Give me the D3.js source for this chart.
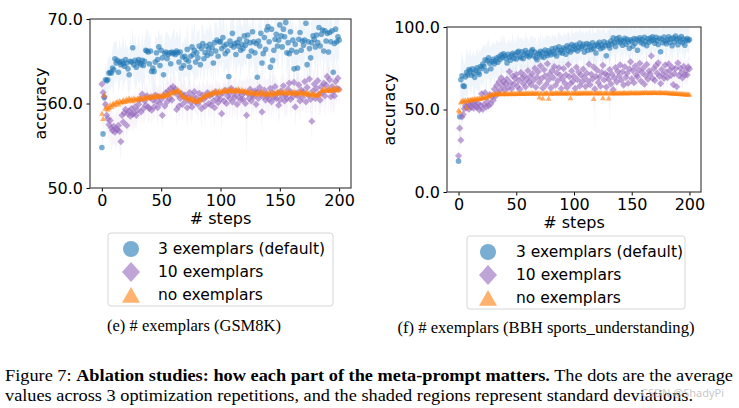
<!DOCTYPE html>
<html><head><meta charset="utf-8">
<script src="https://cdn.jsdelivr.net/npm/d3@7"></script>
<style>body{margin:0;background:#fff}svg{display:block}</style>
</head><body>
<svg id="c" width="739" height="408"></svg>
<script>
// ---------- data: GSM8K ----------
const gsmBlue=[54.8,56.4,60.7,62.8,62.7,62.8,63.6,63.7,63.6,64.2,
64.0,65.3,64.8,65.1,63.7,64.9,64.6,65.0,64.7,64.4,
65.2,64.8,64.1,63.4,65.0,64.9,66.6,64.6,65.1,64.3,
64.9,65.2,64.8,64.6,65.1,64.5,65.0,66.3,66.2,66.1,
64.7,66.2,63.8,64.2,63.8,64.9,66.0,65.2,66.7,64.5,
66.3,65.4,63.4,65.9,66.1,65.3,65.8,66.0,64.7,66.1,
65.9,66.0,65.8,66.2,66.0,64.9,66.1,64.2,65.5,64.5,
65.6,65.2,66.4,65.0,64.3,65.6,66.7,65.8,66.3,64.9,
66.0,65.4,66.8,64.6,66.5,67.1,65.3,66.0,66.8,65.7,
66.4,67.0,65.9,66.6,64.8,67.2,66.2,67.5,65.6,67.3,
67.3,66.5,67.8,66.8,65.9,67.0,66.2,63.2,67.4,66.9,
68.3,66.7,67.1,65.8,67.2,66.8,67.6,66.3,67.0,66.5,
68.0,66.9,67.4,68.1,65.6,67.2,66.2,68.5,67.3,66.0,
67.1,63.1,67.4,66.8,68.3,64.8,65.9,67.8,66.4,68.7,
69.1,67.3,64.3,68.8,65.1,66.3,67.6,68.2,66.8,67.5,
69.3,68.0,66.7,68.8,67.9,69.6,66.0,67.2,65.9,68.5,
66.3,67.5,64.1,67.0,66.1,64.2,67.6,68.4,66.3,67.4,
66.9,67.5,69.5,64.6,67.3,66.5,65.4,67.2,68.0,67.6,
66.7,68.1,67.2,69.0,66.8,68.2,68.7,66.2,68.6,67.4,
68.3,66.1,68.4,67.3,68.6,63.7,67.1,68.8,67.3,67.9,
67.5];
const gsmBlueStd=[0.5,1.0,1.5,2.0,1.2,2.6,1.8,2.2,1.5,2.4,
3.1,2.0,2.7,1.6,2.4,2.9,1.8,2.2,3.3,1.9,
2.5,1.7,2.8,2.2,3.0,1.6,2.4,2.0,3.2,2.6,
1.8,2.9,2.3,1.7,3.4,2.1,2.6,1.9,2.8,2.4,
3.0,2.2,1.9,2.7,2.4,3.1,1.8,2.5,2.2,3.3,
2.0,2.6,2.9,1.8,2.3,3.2,2.4,1.9,2.8,2.1,
2.6,3.0,1.7,2.4,2.1,2.8,3.3,2.2,1.9,2.7,
2.4,2.0,3.1,2.6,2.3,1.8,2.9,2.4,3.4,2.1,
2.6,3.0,2.2,1.9,2.8,2.3,3.2,2.0,2.5,2.9,
2.2,2.7,3.1,1.9,2.6,2.4,3.3,2.1,2.8,2.5,
3.0,2.2,2.6,3.4,2.0,2.8,2.4,3.6,2.1,2.9,
2.5,3.2,2.0,2.7,3.0,2.3,2.8,3.5,2.2,2.6,
3.1,2.4,2.9,2.1,3.3,2.6,2.2,3.0,2.7,2.4,
3.2,2.5,2.8,2.3,3.4,2.9,2.1,2.7,3.1,2.4,
2.6,3.3,2.9,2.2,3.5,2.7,2.4,3.0,2.6,3.2,
2.8,2.3,3.4,2.6,3.0,2.5,3.2,2.7,3.6,2.2,
3.0,2.6,3.8,2.4,3.1,2.9,2.5,3.3,2.8,2.4,
3.2,2.7,2.5,3.6,2.9,3.1,2.6,3.4,2.3,2.8,
3.0,2.5,3.3,2.7,3.1,2.4,3.5,2.9,2.6,3.2,
2.8,3.4,2.5,3.0,2.7,3.9,2.6,3.3,2.9,2.5,
2.6];
const gsmPurple=[62.3,61.3,60.8,59.9,58.6,58.2,57.5,58.0,57.1,56.8,
57.3,56.6,57.0,56.9,57.4,56.7,55.5,58.6,57.8,58.9,
59.3,57.4,58.8,59.1,58.5,59.4,58.7,58.9,59.6,58.6,
59.2,59.9,60.5,59.0,61.1,59.4,60.3,59.8,60.9,59.6,
59.4,60.7,59.2,60.4,59.6,61.0,60.2,59.5,60.8,60.0,
60.5,58.6,60.9,59.7,61.3,60.2,61.5,60.6,61.8,60.4,
62.0,61.4,61.7,59.3,61.0,59.7,60.6,61.2,59.9,60.8,
61.0,60.3,59.5,60.7,61.3,60.1,59.6,60.9,61.4,60.2,
60.6,59.9,61.2,60.4,59.4,61.0,60.5,59.7,60.8,61.3,
60.0,60.9,59.8,61.1,60.3,59.5,61.4,60.6,60.1,61.0,
60.5,58.8,61.2,60.3,61.6,60.0,60.9,61.3,60.6,61.8,
60.2,61.1,60.7,61.5,59.9,60.8,61.4,60.4,61.0,60.5,
61.3,60.0,58.6,61.2,60.6,61.7,60.3,61.0,60.8,61.5,
59.9,61.4,60.6,61.9,61.2,59.0,60.8,61.6,60.4,61.1,
60.9,60.5,61.8,60.2,61.3,60.7,62.0,60.6,61.2,59.8,
60.4,61.5,60.9,62.1,60.3,61.0,60.6,61.7,62.4,60.5,
61.3,60.8,62.5,59.6,61.2,60.9,62.2,60.3,61.6,60.7,
61.4,62.6,60.2,61.9,61.0,62.9,60.5,57.9,61.5,62.3,
60.6,61.8,62.7,61.1,60.4,62.0,61.3,62.4,60.9,62.2,
63.2,61.6,62.8,60.8,62.0,61.4,60.9,62.6,61.8,63.0,
61.7];
const gsmPurpleStd=[0.6,1.0,1.4,1.8,2.2,1.6,2.4,1.9,2.8,1.7,
2.1,1.5,2.6,1.8,2.0,2.3,2.4,1.6,2.9,1.8,
1.5,2.2,1.7,2.5,1.4,1.9,2.1,1.6,2.3,1.8,
1.4,1.9,1.6,2.2,1.5,1.8,2.4,1.3,1.7,2.0,
1.6,1.3,2.1,1.5,1.9,1.4,1.8,2.3,1.5,1.7,
1.9,2.0,1.4,1.8,1.6,2.2,1.3,1.7,1.5,2.1,
1.4,1.8,1.6,2.3,1.5,2.0,1.7,1.4,2.2,1.6,
1.8,1.5,2.4,1.7,1.4,1.9,2.1,1.6,1.8,1.5,
1.7,2.0,1.5,1.8,2.3,1.6,1.9,2.2,1.5,1.7,
2.0,1.6,2.2,1.5,1.8,2.4,1.7,1.9,2.1,1.6,
1.8,2.3,1.6,2.0,1.5,2.2,1.7,1.9,2.4,1.6,
2.0,1.7,2.3,1.5,2.1,1.8,1.6,2.2,1.9,2.0,
1.7,2.4,4.8,1.8,2.0,1.6,2.3,1.9,2.1,1.7,
2.2,1.8,2.0,1.6,2.4,2.5,1.9,1.7,2.2,1.8,
2.0,2.3,1.7,2.1,1.9,2.4,1.6,2.0,1.8,2.2,
1.9,1.7,2.3,1.8,2.1,2.0,2.4,1.6,1.9,2.2,
1.8,2.0,1.7,2.5,1.9,2.2,1.8,2.4,2.0,1.7,
2.1,1.9,2.4,1.8,2.2,1.7,2.3,2.6,1.9,2.0,
2.2,1.8,2.1,2.4,1.9,2.3,1.7,2.0,2.5,1.8,
2.1,2.4,1.9,2.3,2.0,2.6,1.8,2.2,1.9,2.1,
2.0];
const gsmOrange=[58.8,58.2,61.0,59.4,59.6,59.3,59.5,59.8,59.6,59.9,
60.0,59.8,60.1,60.2,59.9,60.3,60.1,60.2,60.4,60.2,
60.3,60.5,60.3,60.6,60.4,60.5,60.3,60.6,60.5,60.4,
60.6,60.5,60.7,60.6,60.5,60.7,60.6,60.8,60.6,60.7,
60.8,60.7,60.9,60.8,60.7,60.9,60.8,61.0,60.8,60.9,
60.9,61.0,60.8,61.0,60.9,61.1,61.2,61.0,61.3,61.2,
61.4,61.3,61.5,61.4,61.6,61.5,61.3,61.1,60.9,60.8,
60.7,60.8,60.6,60.5,60.7,60.4,60.6,60.5,60.3,60.4,
60.2,60.3,60.5,60.4,60.6,60.8,60.7,61.0,60.9,61.1,
61.0,61.2,61.1,61.3,61.2,61.4,61.3,61.2,61.4,61.5,
61.3,61.5,61.4,61.6,61.5,61.4,61.6,61.5,61.7,61.6,
61.5,61.6,61.4,61.6,61.5,61.7,61.5,61.4,61.6,61.5,
61.4,61.5,61.3,61.4,61.2,61.3,61.4,61.2,61.3,61.1,
61.2,61.3,61.1,61.2,61.4,61.3,61.1,61.2,61.0,61.2,
61.1,61.3,61.2,61.0,61.2,61.3,61.1,61.2,61.4,61.3,
61.2,61.4,61.3,61.2,61.4,61.3,61.2,61.3,61.4,61.2,
61.3,61.2,61.4,61.3,61.1,61.3,61.2,61.4,61.3,61.2,
61.3,61.1,61.2,61.3,61.1,61.2,61.0,61.1,61.2,61.0,
61.1,60.9,61.0,61.2,61.1,61.5,61.6,61.5,61.7,61.6,
61.5,61.7,61.6,61.5,61.7,61.6,61.8,61.6,61.7,61.6,
61.7];
const gsmOrangeStd=[0.8,1.2,0.6,0.9,0.7,0.8,0.6,0.7,0.5,0.6,
0.5,0.6,0.4,0.5,0.6,0.4,0.5,0.4,0.6,0.5,
0.4,0.5,0.6,0.4,0.5,0.4,0.6,0.5,0.4,0.5,
0.5,0.4,0.6,0.5,0.4,0.5,0.4,0.6,0.5,0.4,
0.6,0.5,0.4,0.5,0.6,0.4,0.5,0.4,0.5,0.6,
0.4,0.5,0.6,0.5,0.4,0.5,0.6,0.4,0.5,0.6,
0.7,0.6,0.8,0.6,0.7,0.5,0.6,0.7,0.5,0.6,
0.5,0.6,0.4,0.5,0.6,0.5,0.4,0.5,0.6,0.4,
0.5,0.4,0.6,0.5,0.4,0.6,0.5,0.4,0.5,0.6,
0.4,0.5,0.4,0.6,0.5,0.4,0.5,0.6,0.4,0.5,
0.5,0.4,0.6,0.5,0.4,0.5,0.6,0.4,0.5,0.4,
0.6,0.5,0.4,0.5,0.6,0.4,0.5,0.6,0.4,0.5,
0.4,0.5,0.6,0.4,0.5,0.6,0.4,0.5,0.4,0.6,
0.5,0.4,0.5,0.6,0.4,0.5,0.4,0.6,0.5,0.4,
0.6,0.5,0.4,0.5,0.6,0.4,0.5,0.4,0.5,0.6,
0.4,0.5,0.6,0.5,0.4,0.5,0.6,0.4,0.5,0.4,
0.5,0.4,0.6,0.5,0.4,0.6,0.5,0.4,0.5,0.6,
0.4,0.5,0.4,0.6,0.5,0.4,0.5,0.6,0.4,0.5,
0.5,0.6,0.4,0.5,0.6,0.7,0.5,0.6,0.4,0.5,
0.4,0.5,0.6,0.4,0.5,0.4,0.6,0.5,0.4,0.5,
0.4];

// ---------- data: BBH sports_understanding ----------
const bbhBlue=[18.7,45.6,68.0,70.5,64.3,64.0,69.8,72.5,71.0,74.2,
73.5,70.8,74.6,72.0,69.5,73.8,75.2,72.4,71.3,76.0,
74.8,77.5,76.2,80.1,73.4,79.6,81.3,78.0,74.7,79.0,
80.5,77.8,79.4,81.2,78.6,82.0,80.3,83.1,81.5,83.8,
82.6,80.9,78.2,83.5,81.7,79.9,82.8,84.1,81.0,83.3,
80.6,84.6,85.3,82.2,81.4,84.9,80.8,83.6,85.8,82.7,
84.3,81.9,83.0,85.5,86.4,82.5,84.8,81.3,80.2,84.0,
83.4,85.2,82.0,84.7,81.6,86.0,83.9,82.8,85.6,84.4,
83.2,86.8,85.0,83.7,87.2,82.4,86.1,88.0,84.6,85.9,
84.1,87.4,86.5,83.5,88.6,85.7,87.9,84.9,89.3,86.2,
88.5,86.7,89.1,85.4,87.6,90.2,86.9,88.3,89.5,84.8,
87.7,90.0,85.8,89.4,88.1,86.3,90.5,87.0,88.8,84.2,
89.6,88.4,90.7,86.8,89.2,87.5,91.0,88.6,82.6,90.3,
89.0,87.3,91.5,89.8,93.4,90.6,88.2,92.8,91.1,93.6,
90.4,92.0,88.9,91.7,93.1,89.5,92.5,90.9,87.1,92.2,
91.4,88.3,93.0,90.1,92.7,85.9,91.9,93.5,90.6,92.4,
89.7,93.8,91.2,88.7,92.9,90.8,93.3,91.6,94.0,92.1,
90.2,93.7,91.8,89.4,93.2,85.0,92.6,90.5,93.9,91.3,
89.9,92.3,94.1,90.7,92.8,88.6,93.4,91.0,94.5,92.6,
89.3,93.1,91.5,94.2,90.4,92.7,89.0,91.9,93.0,91.8,
92.4];
const bbhBlueStd=[1.0,8.0,12.0,14.5,16.0,13.0,10.5,15.0,12.0,9.5,
13.0,11.5,9.0,14.0,12.5,10.0,13.5,11.0,15.0,9.5,
12.0,10.5,13.0,9.0,14.0,11.5,12.0,10.0,13.5,11.0,
10.0,12.5,9.5,11.0,13.0,8.5,10.5,12.0,9.0,11.5,
10.5,9.0,12.0,8.5,11.0,10.0,9.5,12.5,8.0,10.5,
9.5,11.0,8.5,10.0,12.0,9.0,10.5,8.0,11.5,9.5,
10.0,8.5,11.0,9.5,8.0,10.5,9.0,12.0,8.5,10.0,
9.0,10.5,8.0,11.0,9.5,8.5,10.0,12.5,9.0,10.5,
8.5,10.0,9.0,11.5,8.0,9.5,10.5,8.5,11.0,9.0,
10.0,8.5,9.5,11.0,8.0,10.5,9.0,8.5,10.0,9.5,
8.0,10.0,9.0,11.5,8.5,9.5,10.5,8.0,9.0,11.0,
9.5,8.0,10.5,9.0,11.0,8.5,10.0,9.5,8.0,12.0,
9.0,10.5,8.0,11.0,9.5,10.0,8.5,9.0,13.0,8.0,
9.5,10.5,8.5,9.0,7.5,10.0,9.5,8.0,9.0,7.0,
9.0,8.0,10.5,8.5,7.5,9.5,8.0,9.0,11.0,8.5,
8.0,10.0,7.5,9.0,8.5,11.5,8.0,7.5,9.5,8.0,
9.0,7.0,8.5,10.0,7.5,9.0,8.0,8.5,7.0,8.0,
9.5,7.5,8.5,10.0,8.0,12.0,8.5,9.0,7.0,8.5,
9.0,8.0,7.0,9.5,8.0,10.0,7.5,8.5,6.5,8.0,
9.5,7.5,8.5,7.0,9.0,8.0,9.5,8.5,7.5,8.0,
7.5];
const bbhPurple=[21.9,38.7,31.4,45.5,47.0,50.5,52.3,51.0,53.4,50.2,
52.8,51.5,53.9,50.8,54.2,52.0,51.2,53.6,49.8,52.5,
59.5,50.1,53.0,60.2,51.6,54.8,52.2,59.0,53.5,57.8,
55.6,62.4,58.1,64.6,60.3,66.8,62.0,69.2,64.5,67.0,
61.8,65.7,68.4,63.2,73.0,66.1,62.6,70.3,65.4,68.9,
71.2,64.0,67.5,62.3,72.4,69.0,65.8,70.6,63.7,68.2,
73.5,66.6,70.0,64.9,71.8,67.7,75.0,63.5,69.6,72.9,
66.3,76.5,68.8,62.9,74.1,70.4,65.2,77.8,68.0,71.5,
63.1,73.7,69.3,76.0,64.7,72.2,67.4,75.3,70.8,62.7,
68.6,74.8,66.0,71.0,63.4,77.2,69.9,65.6,73.4,67.1,
70.2,62.8,75.6,68.1,72.7,64.3,70.9,66.8,74.5,69.4,
63.9,72.0,67.3,77.5,65.0,71.3,68.5,75.8,62.5,70.0,
73.9,66.4,69.7,64.1,72.5,76.8,67.9,71.7,63.6,70.7,
68.3,74.2,65.5,71.4,62.0,69.1,75.4,66.7,73.1,70.3,
77.0,67.8,72.8,64.8,75.9,69.5,71.9,65.9,74.6,78.9,
68.7,73.6,66.2,76.3,71.1,69.8,74.0,78.0,67.2,72.4,
75.1,65.3,70.5,77.3,68.4,73.3,71.6,82.5,69.0,74.7,
67.6,76.6,72.1,78.3,70.1,65.7,74.3,71.2,68.9,76.9,
72.6,69.3,77.6,73.8,70.6,75.5,65.1,71.8,74.9,63.8,
78.2,70.4,75.0,72.3,69.2,76.1,70.9,73.5,71.0,75.8,
74.6];
const bbhPurpleStd=[2.0,5.0,6.0,4.5,3.5,4.0,3.0,4.5,3.5,4.0,
3.5,4.0,3.0,4.5,3.5,3.0,4.0,3.5,4.5,3.0,
5.0,4.0,3.5,5.5,4.5,6.0,4.0,5.0,4.5,5.5,
6.0,5.0,6.5,5.5,7.0,6.0,5.5,7.5,6.0,6.5,
7.0,6.0,6.5,7.5,6.0,7.0,8.0,6.5,7.0,6.0,
7.5,6.5,7.0,8.0,6.0,7.5,6.5,7.0,8.5,6.5,
7.0,8.0,6.5,7.5,7.0,6.0,8.0,7.5,6.5,7.0,
8.0,6.5,7.5,7.0,6.0,8.5,7.0,6.5,7.5,8.0,
7.0,6.5,8.0,7.5,7.0,6.0,8.5,7.0,6.5,7.5,
8.0,7.0,6.5,7.5,8.0,24.0,7.0,6.5,8.0,7.5,
7.0,8.5,6.5,7.5,7.0,8.0,6.5,7.5,7.0,8.5,
7.5,6.5,8.0,7.0,7.5,6.5,8.0,7.0,27.0,7.5,
6.5,8.0,7.0,7.5,6.5,8.0,7.0,7.5,8.5,7.0,
6.5,33.0,7.5,7.0,8.0,6.5,7.5,7.0,8.0,6.5,
7.5,7.0,8.0,6.5,7.5,7.0,8.0,6.5,7.5,7.0,
8.0,7.0,6.5,7.5,7.0,8.0,6.5,7.5,7.0,8.0,
7.0,6.5,8.0,7.5,7.0,6.5,8.0,7.0,7.5,6.5,
7.5,8.0,7.0,6.5,7.5,8.0,7.0,6.5,7.5,7.0,
8.0,7.0,6.5,7.5,8.0,7.0,6.5,7.5,7.0,8.0,
7.0,6.5,7.5,8.0,7.0,6.5,7.5,7.0,8.0,7.0,
7.5];
const bbhOrange=[49.5,48.6,54.3,55.0,55.4,54.8,55.6,51.2,55.9,55.3,
56.0,55.7,56.2,55.8,56.4,56.1,56.6,56.3,56.8,56.5,
56.9,57.2,57.0,57.5,57.3,57.8,58.1,58.5,58.9,59.2,
59.4,59.1,59.6,59.3,59.5,59.7,59.4,59.6,59.3,59.5,
59.6,59.4,59.7,59.5,59.3,59.6,59.8,59.5,59.7,59.4,
59.6,59.8,59.5,59.7,59.9,59.6,59.8,59.5,59.7,59.9,
59.7,59.9,59.6,59.8,60.0,59.7,59.9,59.6,59.8,60.0,
57.4,59.8,59.6,56.8,59.9,59.7,60.0,59.8,56.6,59.9,
59.7,60.0,59.8,59.6,59.9,60.1,59.8,60.0,59.7,59.9,
60.1,59.8,60.0,59.7,59.9,60.1,59.8,56.9,60.0,59.8,
60.0,59.8,60.1,59.9,59.7,60.0,59.8,60.1,59.9,60.0,
59.8,60.1,59.9,60.0,59.8,60.1,59.9,56.5,60.0,59.8,
60.1,59.9,60.0,59.8,60.1,57.0,59.9,60.0,59.8,60.1,
56.7,59.9,60.0,59.8,60.1,59.9,60.0,59.8,60.1,59.9,
60.0,59.8,60.1,59.9,60.2,60.0,59.8,60.1,59.9,60.2,
60.0,60.1,59.9,60.2,60.0,60.1,59.9,60.2,60.0,60.3,
60.1,60.2,60.0,60.3,60.1,60.2,60.0,60.3,60.1,60.2,
60.3,60.1,60.2,60.0,60.3,60.1,60.2,60.0,60.1,60.2,
60.0,60.1,59.9,60.0,59.8,59.9,59.7,59.8,59.6,59.7,
59.5,59.6,59.4,59.5,59.3,59.4,59.2,59.3,59.1,59.2,
59.0];
const bbhOrangeStd=[3.0,3.5,2.5,2.0,1.8,2.2,1.6,3.5,1.5,1.4,
1.3,1.2,1.4,1.1,1.3,1.0,1.2,1.1,1.3,1.0,
1.2,1.1,1.0,1.2,1.1,1.3,1.0,1.2,1.1,1.0,
0.9,0.8,1.0,0.7,0.9,0.8,0.7,0.9,0.8,1.0,
0.8,0.7,0.9,0.8,1.0,0.7,0.8,0.9,0.7,0.8,
0.9,0.7,0.8,1.0,0.7,0.9,0.8,0.7,0.9,0.8,
0.7,0.9,0.8,1.0,0.7,0.8,0.9,0.7,0.8,0.9,
4.5,0.8,0.7,5.0,0.8,0.9,0.7,0.8,5.0,0.9,
0.8,0.7,0.9,0.8,1.0,0.7,0.8,0.9,0.7,0.8,
0.9,0.7,0.8,1.0,0.7,0.9,0.8,5.0,0.7,0.8,
0.8,0.9,0.7,0.8,1.0,0.7,0.9,0.8,0.7,0.9,
0.8,0.7,0.9,0.8,0.7,1.0,0.8,5.5,0.9,0.7,
0.8,0.9,0.7,0.8,1.0,5.0,0.8,0.9,0.7,0.8,
5.2,0.8,0.7,0.9,0.8,0.7,1.0,0.8,0.9,0.7,
0.8,0.9,0.7,0.8,0.7,0.9,0.8,0.7,1.0,0.8,
0.7,0.9,0.8,0.7,0.9,0.8,1.0,0.7,0.8,0.9,
0.7,0.8,0.9,0.7,0.8,1.0,0.7,0.9,0.8,0.7,
0.9,0.8,0.7,1.0,0.8,0.9,0.7,0.8,0.9,0.7,
0.8,0.7,0.9,0.8,0.7,0.9,0.8,1.0,0.7,0.8,
0.9,0.7,0.8,0.9,0.7,0.8,1.0,0.7,0.8,0.9,
0.8];

const seriesNames=["3 exemplars (default)","10 exemplars","no exemplars"];
const seriesColors=["#1f77b4","#9467bd","#ff7f0e"];
const seriesShapes=["circle","diamond","triangle"];
const gsmYTicks=[50,60,70];
const bbhYTicks=[0,50,100];
const xTicks=[0,50,100,150,200];
const panelCaptions=["(e) # exemplars (GSM8K)","(f) # exemplars (BBH sports_understanding)"];

// ---------- drawing ----------
const svg=d3.select("#c");
const FONT="DejaVu Sans, sans-serif";

function shapePath(shape,s){
  if(shape==="circle"){return `M${s},0A${s},${s} 0 1,1 ${-s},0A${s},${s} 0 1,1 ${s},0Z`;}
  if(shape==="diamond"){return `M0,${-s}L${s},0L0,${s}L${-s},0Z`;}
  const h=s*1.0;return `M0,${-h}L${s},${h*0.75}L${-s},${h*0.75}Z`;
}
const markerSize={circle:2.8,diamond:3.6,triangle:2.9};

function drawPanel(p,idx){
  const g=svg.append("g");
  const x=d3.scaleLinear().domain([-10,210]).range([p.x0,p.x1]);
  const y=d3.scaleLinear().domain(p.yDomain).range([p.y1,p.y0]);
  const clipId="clip"+idx;
  svg.append("clipPath").attr("id",clipId).append("rect")
    .attr("x",p.x0).attr("y",p.y0).attr("width",p.x1-p.x0).attr("height",p.y1-p.y0);
  const plot=g.append("g").attr("clip-path",`url(#${clipId})`);
  p.series.forEach((s,si)=>{
    const rows=s.mean.map((m,i)=>({i,m,sd:s.std[i]}));
    const area=d3.area().x(d=>x(d.i)).y0(d=>y(d.m-d.sd)).y1(d=>y(d.m+d.sd));
    plot.append("path").attr("d",area(rows)).attr("fill",seriesColors[si]).attr("fill-opacity",0.07);
  });
  p.series.forEach((s,si)=>{
    const sh=seriesShapes[si];
    plot.append("g").selectAll("path").data(s.mean).join("path")
      .attr("transform",(d,i)=>`translate(${x(i)},${y(d)})`)
      .attr("d",shapePath(sh,markerSize[sh]))
      .attr("fill",seriesColors[si]).attr("fill-opacity",0.6);
  });
  const ax=g.append("g").attr("transform",`translate(0,${p.y1})`)
    .call(d3.axisBottom(x).tickValues(xTicks).tickSize(3.5).tickPadding(3.5).tickSizeOuter(0));
  const ay=g.append("g").attr("transform",`translate(${p.x0},0)`)
    .call(d3.axisLeft(y).tickValues(p.yTicks).tickFormat(d3.format(".1f")).tickSize(3.5).tickPadding(3.5).tickSizeOuter(0));
  [ax,ay].forEach(a=>{a.select(".domain").remove();
    a.selectAll("text").attr("font-family",FONT).attr("font-size",16).attr("fill","#000");
    a.selectAll("line").attr("stroke","#000");});
  g.append("rect").attr("x",p.x0).attr("y",p.y0).attr("width",p.x1-p.x0).attr("height",p.y1-p.y0)
    .attr("fill","none").attr("stroke","#444").attr("stroke-width",1.2);
  g.append("text").attr("x",(x(0)+x(200))/2).attr("y",p.y1+36).attr("text-anchor","middle")
    .attr("font-family",FONT).attr("font-size",16).text("# steps");
  g.append("text").attr("transform",`translate(${p.ylx},${(p.y0+p.y1)/2}) rotate(-90)`)
    .attr("text-anchor","middle").attr("dominant-baseline","central")
    .attr("font-family",FONT).attr("font-size",16).text("accuracy");
  const L=p.legend;
  const lg=g.append("g");
  lg.append("rect").attr("x",L.x).attr("y",L.y).attr("width",L.w).attr("height",L.h).attr("rx",3)
    .attr("fill","#fff").attr("stroke","#d6d6d6").attr("stroke-width",1);
  seriesNames.forEach((n,si)=>{
    const cy=L.y+16+si*23;
    const sh=seriesShapes[si];
    const big={circle:8,diamond:10,triangle:9}[sh];
    lg.append("path").attr("transform",`translate(${L.x+L.mx},${cy+(sh==="triangle"?1:0)})`)
      .attr("d",sh==="diamond"?`M0,-10L9,0L0,10L-9,0Z`:shapePath(sh,big))
      .attr("fill",seriesColors[si]).attr("fill-opacity",0.6);
    lg.append("text").attr("x",L.x+L.tx).attr("y",cy).attr("dominant-baseline","central")
      .attr("font-family",FONT).attr("font-size",15.5).text(n);
  });
  svg.append("text").attr("x",p.capX).attr("y",p.capY).attr("text-anchor","middle")
    .attr("font-family","Liberation Serif, serif").attr("font-size",16.5)
    .attr("textLength",p.capW).attr("lengthAdjust","spacingAndGlyphs").text(panelCaptions[idx]);
}

const panels=[
  {x0:90,x1:351,y0:19,y1:188,yDomain:[50,70],yTicks:gsmYTicks,ylx:40,
   series:[{mean:gsmBlue,std:gsmBlueStd},{mean:gsmPurple,std:gsmPurpleStd},{mean:gsmOrange,std:gsmOrangeStd}],
   legend:{x:108,y:233,w:225,h:73,mx:23,tx:50},capX:194,capY:331,capW:174},
  {x0:447,x1:701,y0:27,y1:192,yDomain:[0,100],yTicks:bbhYTicks,ylx:389,
   series:[{mean:bbhBlue,std:bbhBlueStd},{mean:bbhPurple,std:bbhPurpleStd},{mean:bbhOrange,std:bbhOrangeStd}],
   legend:{x:467,y:236,w:218,h:73,mx:21,tx:49},capX:546,capY:333,capW:297}
];
panels.forEach(drawPanel);

const cap1=svg.append("text").attr("x",5).attr("y",381).attr("font-family","Liberation Serif, serif")
  .attr("font-size",16.5).attr("textLength",728).attr("lengthAdjust","spacingAndGlyphs");
cap1.append("tspan").text("Figure 7: ");
cap1.append("tspan").attr("font-weight","bold").text("Ablation studies: how each part of the meta-prompt matters.");
cap1.append("tspan").text(" The dots are the average");
svg.append("text").attr("x",5).attr("y",401).attr("font-family","Liberation Serif, serif")
  .attr("font-size",16.5).attr("textLength",688).attr("lengthAdjust","spacingAndGlyphs")
  .text("values across 3 optimization repetitions, and the shaded regions represent standard deviations.");
svg.append("text").attr("x",641).attr("y",397).attr("font-family","Noto Sans, sans-serif")
  .attr("font-size",11).attr("fill","#bdbdbd").attr("fill-opacity",0.85).text("CSDN @ShadyPi");
</script>
</body></html>
